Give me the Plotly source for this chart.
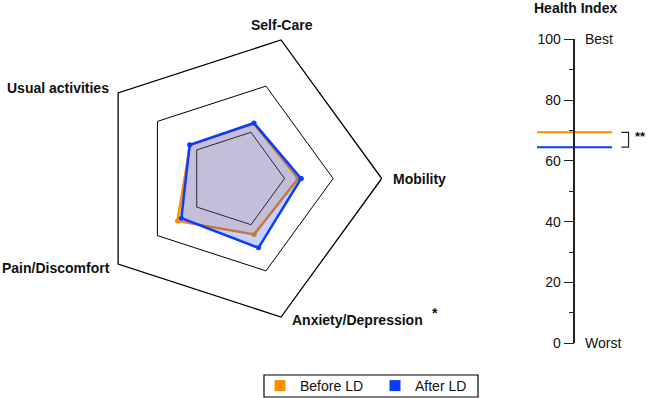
import plotly.graph_objects as go

# ---- data ----
dimensions = ["Mobility", "Self-Care", "Usual activities", "Pain/Discomfort", "Anxiety/Depression"]
before_ld = [1.28, 1.19, 1.17, 1.49, 1.21]
after_ld = [1.34, 1.20, 1.18, 1.39, 1.50]
health_before = 69.4
health_after = 64.5
health_ticks = [0, 20, 40, 60, 80, 100]
series_names = ["Before LD", "After LD"]

ORANGE = "#FF8C00"
BLUE = "#0A3CFF"
W, H = 648, 398

fig = go.Figure()

def closed(v):
    return list(v) + [v[0]]

theta_c = closed(dimensions)
fig.add_trace(go.Scatterpolar(
    r=closed(before_ld), theta=theta_c, mode="lines+markers", fill="toself",
    fillcolor="rgba(255,140,0,0.2)", line=dict(color=ORANGE, width=2.5),
    marker=dict(size=5, color=ORANGE), showlegend=False, name=series_names[0]))
fig.add_trace(go.Scatterpolar(
    r=closed(after_ld), theta=theta_c, mode="lines+markers", fill="toself",
    fillcolor="rgba(10,60,255,0.24)", line=dict(color=BLUE, width=2.5),
    marker=dict(size=5, color=BLUE), showlegend=False, name=series_names[1]))

# Health index lines
fig.add_trace(go.Scatter(x=[0, 7.3], y=[health_before, health_before], mode="lines",
                         line=dict(color=ORANGE, width=2), xaxis="x2", yaxis="y2", showlegend=False))
fig.add_trace(go.Scatter(x=[0, 7.3], y=[health_after, health_after], mode="lines",
                         line=dict(color=BLUE, width=2), xaxis="x2", yaxis="y2", showlegend=False))
# bracket
fig.add_trace(go.Scatter(x=[8.2, 8.9, 8.9, 8.2], y=[health_before, health_before, health_after, health_after],
                         mode="lines", line=dict(color="#222", width=1.2), xaxis="x2", yaxis="y2",
                         showlegend=False))

# legend dummies
for nm, col in zip(series_names, [ORANGE, BLUE]):
    fig.add_trace(go.Scatter(x=[None], y=[None], mode="markers", name=nm,
                             marker=dict(symbol="square", size=11, color=col),
                             xaxis="x2", yaxis="y2"))

cx, cy, R = 236, 178.5, 145.7
fig.update_layout(
    width=W, height=H, margin=dict(l=0, r=0, t=0, b=0, autoexpand=False),
    paper_bgcolor="white", plot_bgcolor="white",
    font=dict(family="Liberation Sans, Arial, sans-serif", size=14, color="#111"),
    polar=dict(
        domain=dict(x=[(cx - R) / W, (cx + R) / W], y=[1 - (cy + R) / H, 1 - (cy - R) / H]),
        gridshape="linear", bgcolor="white",
        angularaxis=dict(rotation=0, direction="counterclockwise", categoryorder="array",
                         categoryarray=dimensions, showgrid=False, showticklabels=False,
                         ticks="", showline=True, linecolor="black", linewidth=1.3),
        radialaxis=dict(range=[0, 3], tickvals=[1, 2], showgrid=True, gridcolor="black",
                        gridwidth=1.3, showline=False, showticklabels=False, ticks=""),
    ),
    xaxis2=dict(domain=[537 / W, 645 / W], range=[0, 10.5], visible=False, anchor="y2"),
    yaxis2=dict(domain=[1 - 343.3 / H, 1 - 39.3 / H], range=[0, 100], anchor="free",
                position=574.3 / W, tickvals=health_ticks, ticks="outside", ticklen=10,
                tickwidth=1.3, tickcolor="#222", showline=True, linecolor="#222", linewidth=1.5,
                showgrid=False, zeroline=False, tickfont=dict(size=14, color="#111"),
                minor=dict(dtick=10, ticks="outside", ticklen=5, tickwidth=1.3, tickcolor="#222",
                           showgrid=False)),
    legend=dict(orientation="h", x=260 / W, y=-4 / H, xanchor="left", yanchor="bottom",
                borderwidth=0, bgcolor="rgba(0,0,0,0)",
                font=dict(size=14), entrywidth=70, entrywidthmode="pixels",
                itemsizing="trace"),
    shapes=[dict(type="rect", xref="paper", yref="paper", x0=264 / W, x1=478 / W,
                 y0=1 - 397 / H, y1=1 - 375 / H, line=dict(color="black", width=1.2),
                 fillcolor="rgba(0,0,0,0)", layer="below")],
)

ann = [
    dict(text="<b>Self-Care</b>", x=281.7 / W, y=1 - 25 / H, xanchor="center"),
    dict(text="<b>Usual activities</b>", x=111 / W, y=1 - 88 / H, xanchor="right"),
    dict(text="<b>Mobility</b>", x=391 / W, y=1 - 179 / H, xanchor="left"),
    dict(text="<b>Pain/Discomfort</b>", x=112 / W, y=1 - 268 / H, xanchor="right"),
    dict(text="<b>Anxiety/Depression</b>", x=290 / W, y=1 - 320 / H, xanchor="left"),
    dict(text="<b>*</b>", x=430 / W, y=1 - 313 / H, xanchor="left"),
    dict(text="<b>Health Index</b>", x=575 / W, y=1 - 8.5 / H, xanchor="center"),
]
for a in ann:
    a.update(xref="paper", yref="paper", yanchor="middle", showarrow=False, font=dict(size=14))
    fig.add_annotation(**a)

fig.add_annotation(text="Best", x=583 / W, xref="paper", y=100, yref="y2", xanchor="left",
                   yanchor="middle", showarrow=False, font=dict(size=14))
fig.add_annotation(text="Worst", x=583 / W, xref="paper", y=0, yref="y2", xanchor="left",
                   yanchor="middle", showarrow=False, font=dict(size=14))
fig.add_annotation(text="<b>**</b>", x=633 / W, xref="paper", y=(health_before + health_after) / 2 + 1.2,
                   yref="y2", xanchor="left", yanchor="middle", showarrow=False, font=dict(size=13))

fig.write_html("out.html", config={"displayModeBar": False},
               post_script="document.body.style.margin='0';")
